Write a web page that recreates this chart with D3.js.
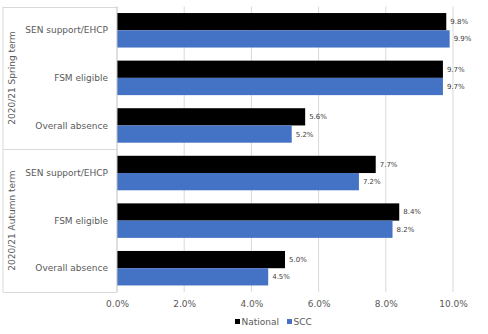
<!DOCTYPE html>
<html><head><meta charset="utf-8">
<script src="https://cdn.jsdelivr.net/npm/d3@7"></script>
<style>body{margin:0;background:#fff;} svg{display:block;font-family:"DejaVu Sans",Verdana,sans-serif;}</style>
</head><body><svg id="c" width="488" height="334"></svg>
<script>
const groups = ["2020/21 Spring term", "2020/21 Autumn term"];
const categories = ["SEN support/EHCP", "FSM eligible", "Overall absence"];
const seriesNames = ["National", "SCC"];
const national = [9.8, 9.7, 5.6, 7.7, 8.4, 5.0];
const scc = [9.9, 9.7, 5.2, 7.2, 8.2, 4.5];
const xTicks = [0, 2, 4, 6, 8, 10];
const colors = ["#000000", "#4472C4"];

const svg = d3.select("#c");
const L = 117, R = 453, T = 6.5, B = 292, LB = 3;
const rows = [];
groups.forEach((g, gi) => categories.forEach((c, ci) => rows.push({key: gi + "-" + ci, g, c, gi, vals: [national[gi*3+ci], scc[gi*3+ci]]})));

const x = d3.scaleLinear().domain([0, 10]).range([L, R]);
const y = d3.scaleBand().domain(rows.map(r => r.key)).range([T, B]).paddingInner(0.275).paddingOuter(0.1375);
const ys = d3.scaleBand().domain([0, 1]).range([0, y.bandwidth()]);

// gridlines
svg.append("g").selectAll("line").data(xTicks.filter(d => d > 0)).join("line")
  .attr("x1", d => x(d)).attr("x2", d => x(d)).attr("y1", T).attr("y2", B)
  .attr("stroke", "#D9D9D9").attr("stroke-width", 1);

// bars
const rg = svg.append("g").selectAll("g").data(rows).join("g").attr("transform", d => `translate(0,${y(d.key)})`);
rg.selectAll("rect").data(d => d.vals.map((v, i) => ({v, i}))).join("rect")
  .attr("x", x(0)).attr("y", d => ys(d.i)).attr("width", d => x(d.v) - x(0)).attr("height", ys.bandwidth())
  .attr("fill", d => colors[d.i]);
rg.selectAll("text").data(d => d.vals.map((v, i) => ({v, i}))).join("text")
  .attr("x", d => x(d.v) + 4).attr("y", d => ys(d.i) + ys.bandwidth()/2).attr("dy", "0.35em")
  .attr("font-size", 7).attr("fill", "#404040").text(d => d.v.toFixed(1) + "%");

// category axis frame
const fr = svg.append("g").attr("stroke", "#D9D9D9").attr("stroke-width", 1).attr("fill", "none");
fr.append("line").attr("x1", LB).attr("x2", LB).attr("y1", T).attr("y2", B);
[T, y(rows[3].key) - y.step()*y.paddingInner()/2, B].forEach(v => {
  fr.append("line").attr("x1", LB).attr("x2", L).attr("y1", Math.round(v)+0.5).attr("y2", Math.round(v)+0.5);
});
svg.append("line").attr("x1", L).attr("x2", L).attr("y1", T).attr("y2", B).attr("stroke", "#BFBFBF");

// category labels
svg.append("g").selectAll("text").data(rows).join("text")
  .attr("x", 108).attr("y", d => y(d.key) + y.bandwidth()/2).attr("dy", "0.35em")
  .attr("text-anchor", "end").attr("font-size", 9).attr("fill", "#595959").text(d => d.c);

// group labels
groups.forEach((g, gi) => {
  const y0 = gi === 0 ? T : y(rows[3].key) - y.step()*y.paddingInner()/2;
  const y1 = gi === 0 ? y(rows[3].key) - y.step()*y.paddingInner()/2 : B;
  const cy = (y0 + y1) / 2;
  svg.append("text").attr("transform", `translate(12,${cy}) rotate(-90)`).attr("dy", "0.35em")
    .attr("text-anchor", "middle").attr("font-size", 9).attr("fill", "#595959").text(g);
});

// x axis labels
const xa = svg.append("g").attr("transform", `translate(0,${B})`)
  .call(d3.axisBottom(x).tickValues(xTicks).tickSize(0).tickPadding(9).tickFormat(d => d.toFixed(1) + "%"));
xa.select(".domain").remove();
xa.selectAll("text").attr("font-size", 9).attr("fill", "#595959").attr("font-family", "DejaVu Sans, Verdana, sans-serif");

// legend
const lg = svg.append("g").attr("transform", "translate(235,322)");
const items = [{n: seriesNames[0], c: colors[0], x: 0}, {n: seriesNames[1], c: colors[1], x: 52}];
items.forEach(it => {
  lg.append("rect").attr("x", it.x).attr("y", -3).attr("width", 5).attr("height", 5).attr("fill", it.c);
  lg.append("text").attr("x", it.x + 6.5).attr("y", 0).attr("dy", "0.35em").attr("font-size", 9).attr("fill", "#595959").text(it.n);
});
</script></body></html>
